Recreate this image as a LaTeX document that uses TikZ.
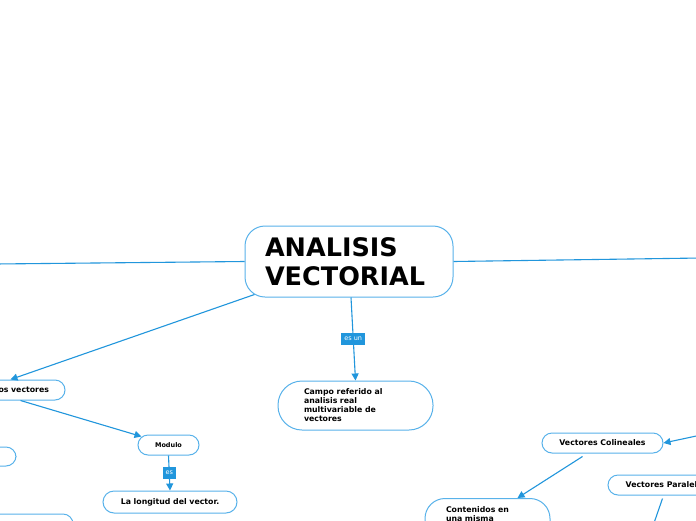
\documentclass[tikz,border=0pt]{standalone}
\usepackage{fontspec}
\setmainfont{DejaVu Sans}
\usetikzlibrary{arrows.meta}
\definecolor{lineblue}{RGB}{33,150,220}
\definecolor{boxblue}{RGB}{88,178,234}
\begin{document}
\begin{tikzpicture}[x=1pt,y=-1pt,
  conn/.style={draw=lineblue,line width=1.1pt},
  arr/.style={conn,-{Triangle[length=7pt,width=7pt]}},
  topic/.style={draw=boxblue,line width=1pt,fill=white,font=\fontsize{7.8}{9.3}\selectfont\bfseries,inner ysep=0pt},
  lbl/.style={fill=lineblue,text=white,font=\fontsize{6.5}{7.5}\selectfont,inner xsep=3pt,inner ysep=2pt,minimum height=12pt},
]
\path[use as bounding box] (0,0) rectangle (696,520);
\fill[white] (0,0) rectangle (696,520);
\clip (0,0) rectangle (696,520);

% nodes
\node[topic, rounded corners=20pt, minimum height=71pt, text width=168pt, inner xsep=20pt, align=left,
      font=\fontsize{25.5}{29.5}\selectfont\bfseries] (main) at (349,261.5) {ANALISIS\\VECTORIAL};
\node[topic, rounded corners=10pt, minimum height=20pt, text width=110pt, inner xsep=16pt, align=right] (osv) at (-6,390) {os vectores};
\node[topic, rounded corners=10pt, minimum height=20pt, minimum width=61pt, font=\fontsize{6.5}{8}\selectfont\bfseries] (modulo) at (168.5,445) {Modulo};
\node[topic, rounded corners=11pt, minimum height=22pt, minimum width=134pt] (longitud) at (170,502) {La longitud del vector.};
\node[topic, rounded corners=24pt, minimum height=49pt, text width=103pt, inner xsep=26pt, align=left,
      font=\fontsize{7.8}{9}\selectfont\bfseries] (campo) at (355.5,405.5) {Campo referido al\\analisis real\\multivariable de\\vectores};
\node[topic, rounded corners=10pt, minimum height=20pt, minimum width=121pt] (colin) at (602.5,443) {Vectores Colineales};
\node[topic, rounded corners=10pt, minimum height=20pt, minimum width=117pt] (paral) at (666.5,485) {Vectores Paralelos};
\node[topic, rounded corners=20pt, anchor=north, text width=83pt, inner xsep=21pt, inner ysep=8pt, text depth=40pt, align=left,
      font=\fontsize{7.8}{8.6}\selectfont\bfseries] (conten) at (487.5,498) {Contenidos en\\una misma};
\node[topic, rounded corners=10pt, minimum height=19pt, minimum width=92pt] (leftA) at (-30,456.5) {};
\node[topic, rounded corners=10pt, minimum height=40pt, minimum width=160pt] (leftB) at (-7,534) {};

% coordinates for free ends
\coordinate (lout) at (-5,264);
\coordinate (rout) at (701,258);
\coordinate (rin) at (701,435);
\coordinate (pout) at (654,523);

% connectors
\draw[conn] (lout) -- (main.west);
\draw[conn] (main.east) -- (rout);
\draw[arr] ([xshift=10pt,yshift=3pt]main.south west) -- ([xshift=-55pt]osv.north east);
\draw[arr] ([xshift=-45pt]osv.south east) -- ([xshift=4pt,yshift=-2pt]modulo.north west);
\draw[arr] (modulo.south) -- node[lbl] (es1) {es} (longitud.north);
\draw[arr] ([xshift=2pt]main.south) -- node[lbl] (esun) {es un} (campo.north);
\draw[arr] (rin) -- (colin.east);
\draw[arr] ([xshift=-20pt,yshift=-3pt]colin.south) -- ([xshift=30pt]conten.north);
\draw[conn] ([xshift=-4pt,yshift=-3pt]paral.south) -- (pout);
\end{tikzpicture}
\end{document}
